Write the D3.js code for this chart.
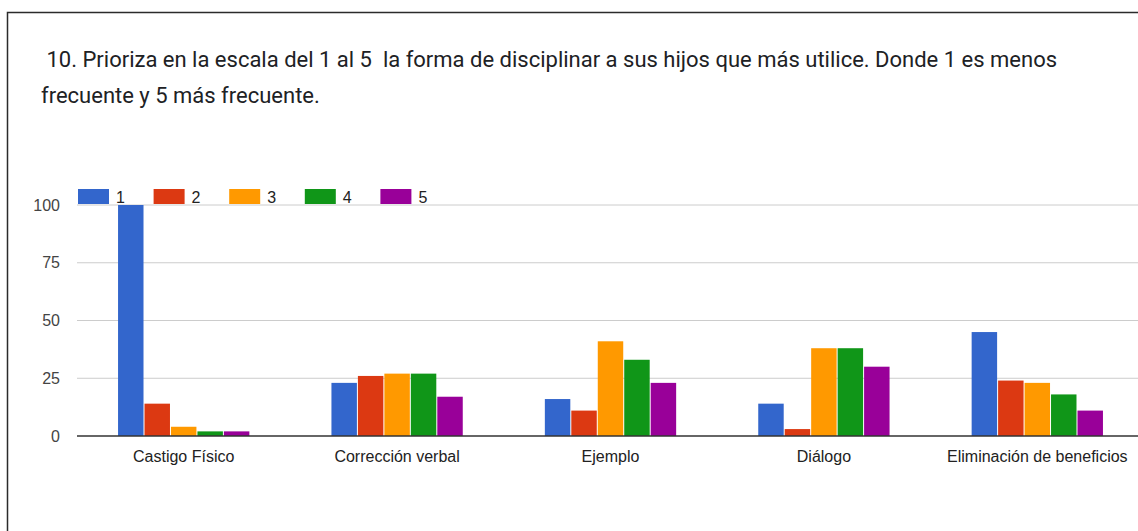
<!DOCTYPE html>
<html>
<head>
<meta charset="utf-8">
<script src="https://cdn.jsdelivr.net/npm/d3@7"></script>
<style>
  html, body { margin: 0; padding: 0; background: #fff; }
  svg { display: block; }
</style>
</head>
<body>
<svg id="chart" width="1138" height="531"></svg>
<script>
const titleLines = [" 10. Prioriza en la escala del 1 al 5  la forma de disciplinar a sus hijos que más utilice. Donde 1 es menos", "frecuente y 5 más frecuente."];
const categories = ["Castigo Físico", "Corrección verbal", "Ejemplo", "Diálogo", "Eliminación de beneficios"];
const seriesNames = ["1", "2", "3", "4", "5"];
const series1 = [100, 23, 16, 14, 45];
const series2 = [14, 26, 11, 3, 24];
const series3 = [4, 27, 41, 38, 23];
const series4 = [2, 27, 33, 38, 18];
const series5 = [2, 17, 23, 30, 11];
const seriesColors = ["#3366cc", "#dc3912", "#ff9900", "#109618", "#990099"];
const yTicks = [0, 25, 50, 75, 100];

const seriesValues = [series1, series2, series3, series4, series5];
const svg = d3.select("#chart");

// card border (top and left edges visible)
svg.append("path")
  .attr("d", "M7.5,531 L7.5,12.5 L1138,12.5")
  .attr("fill", "none")
  .attr("stroke", "#2b2b2b")
  .attr("stroke-width", 1.5);

// title
const title = svg.append("text")
  .attr("font-family", "Roboto, sans-serif")
  .attr("font-size", 22)
  .attr("fill", "#202124")
  .attr("xml:space", "preserve")
  .style("white-space", "pre");
titleLines.forEach((t, i) => {
  title.append("tspan").attr("x", 41).attr("y", 67 + i * 36).text(t);
});

const plotLeft = 77, plotRight = 1144, yTop = 205, yBottom = 436;
const x0 = d3.scaleBand().domain(categories).range([plotLeft, plotRight]).paddingInner(0.38).paddingOuter(0.19);
const x1 = d3.scaleBand().domain(seriesNames).range([0, x0.bandwidth()]).padding(0);
const y = d3.scaleLinear().domain([0, 100]).range([yBottom, yTop]);

// gridlines
svg.append("g").selectAll("line").data(yTicks.filter(d => d !== 0)).join("line")
  .attr("x1", plotLeft).attr("x2", 1138)
  .attr("y1", d => y(d)).attr("y2", d => y(d))
  .attr("stroke", "#cccccc").attr("stroke-width", 1);

// y axis labels
const yAxis = d3.axisLeft(y).tickValues(yTicks).tickSize(0).tickPadding(0);
const gy = svg.append("g").attr("transform", `translate(60,0)`).call(yAxis);
gy.select(".domain").remove();
gy.selectAll("text")
  .attr("font-family", "'Liberation Sans', Arial, sans-serif")
  .attr("font-size", 16)
  .attr("fill", "#444444");

// bars
const groups = svg.append("g").selectAll("g").data(categories).join("g")
  .attr("transform", d => `translate(${x0(d)},0)`);
groups.selectAll("rect")
  .data((c, ci) => seriesNames.map((s, si) => ({ s, si, v: seriesValues[si][ci] })))
  .join("rect")
  .attr("x", d => x1(d.s) + 0.5)
  .attr("width", x1.bandwidth() - 1)
  .attr("y", d => y(d.v))
  .attr("height", d => y(0) - y(d.v))
  .attr("fill", d => seriesColors[d.si]);

// baseline
svg.append("line")
  .attr("x1", plotLeft).attr("x2", 1138)
  .attr("y1", y(0)).attr("y2", y(0))
  .attr("stroke", "#333333").attr("stroke-width", 1.5);

// x axis labels
const xAxis = d3.axisBottom(x0).tickSize(0).tickPadding(0);
const gx = svg.append("g").attr("transform", `translate(0,${y(0) + 26})`).call(xAxis);
gx.select(".domain").remove();
gx.selectAll("text")
  .attr("dy", 0)
  .attr("font-family", "'Liberation Sans', Arial, sans-serif")
  .attr("font-size", 16)
  .attr("fill", "#222222");

// legend
const legend = svg.append("g").selectAll("g").data(seriesNames).join("g")
  .attr("transform", (d, i) => `translate(${78 + i * 75.6},189)`);
legend.append("rect")
  .attr("width", 31).attr("height", 15)
  .attr("fill", (d, i) => seriesColors[i]);
legend.append("text")
  .attr("x", 38).attr("y", 14)
  .attr("font-family", "'Liberation Sans', Arial, sans-serif")
  .attr("font-size", 16)
  .attr("fill", "#222222")
  .text(d => d);
</script>
</body>
</html>
